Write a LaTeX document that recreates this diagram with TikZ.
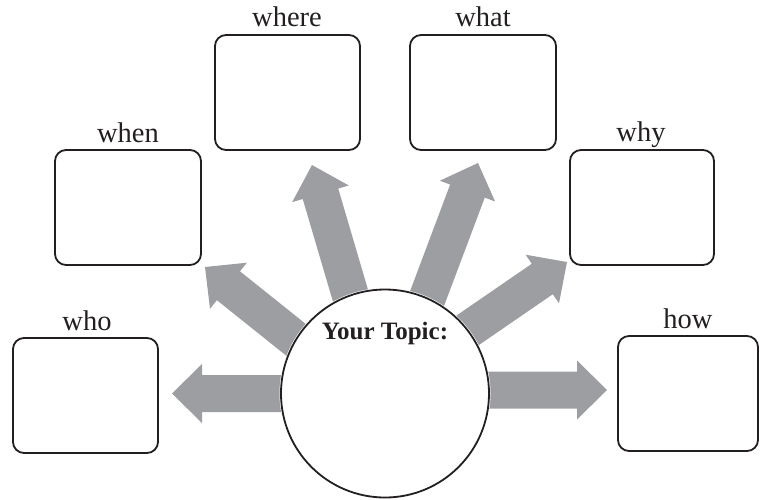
\documentclass[tikz,border=0pt]{standalone}
\usepackage{fontspec}
\setmainfont{Liberation Serif}
\usetikzlibrary{calc}
\definecolor{arrowgray}{RGB}{157,158,162}
\definecolor{ink}{RGB}{35,31,32}
\tikzset{
  qbox/.style={draw=ink, line width=1.8pt, rounded corners=11pt, fill=white,
    inner sep=0pt, minimum height=115pt},
  qlabel/.style={anchor=base, inner sep=0pt, text=ink, font=\fontsize{28.5}{30}\selectfont},
}
\newcommand\blockarrow[2]{%
  \fill[arrowgray]
    ($(#1)!18.5pt!90:(#2)$) --
    ($($(#2)!30pt!(#1)$)!18.5pt!-90:(#1)$) --
    ($($(#2)!30pt!(#1)$)!29.5pt!-90:(#1)$) --
    (#2) --
    ($($(#2)!30pt!(#1)$)!29.5pt!90:(#1)$) --
    ($($(#2)!30pt!(#1)$)!18.5pt!90:(#1)$) --
    ($(#1)!18.5pt!-90:(#2)$) -- cycle;}
\begin{document}
\begin{tikzpicture}[x=1pt,y=-1pt]
\useasboundingbox (0,0) rectangle (760,499);
% boxes
\node[qbox, minimum width=145pt] (who)   at (85.5,395.5) {};
\node[qbox, minimum width=146pt] (when)  at (128,207.5) {};
\node[qbox, minimum width=145pt] (where) at (287.5,92.5) {};
\node[qbox, minimum width=146pt] (what)  at (483,92.5) {};
\node[qbox, minimum width=144pt] (why)   at (642,207.5) {};
\node[qbox, minimum width=140pt] (how)   at (688,393.5) {};
% labels
\node[qlabel] (lwho)   at (87,330) {who};
\node[qlabel] (lwhen)  at (128,142) {when};
\node[qlabel] (lwhere) at (287,26) {where};
\node[qlabel] (lwhat)  at (483,26) {what};
\node[qlabel] (lwhy)   at (641,141) {why};
\node[qlabel] (lhow)   at (688,328) {how};
% arrow end points
\coordinate (twho)   at (172,393.5);  \coordinate (swho)   at (300,393.5);
\coordinate (twhen)  at (205,267);    \coordinate (swhen)  at ($(205,267)!1.25!(290,335)$);
\coordinate (twhere) at (312,165);    \coordinate (swhere) at ($(312,165)!1.2!(350,294)$);
\coordinate (twhat)  at (478,163);    \coordinate (swhat)  at ($(478,163)!1.2!(428,296)$);
\coordinate (twhy)   at (567,262);    \coordinate (swhy)   at ($(567,262)!1.25!(471,328)$);
\coordinate (thow)   at (607,390);    \coordinate (show)   at (470,390);
\blockarrow{swho}{twho}
\blockarrow{swhen}{twhen}
\blockarrow{swhere}{twhere}
\blockarrow{swhat}{twhat}
\blockarrow{swhy}{twhy}
\blockarrow{show}{thow}
% topic circle
\node[circle, draw=white, line width=7pt, fill=white, minimum size=204pt, inner sep=0pt] (topicbg) at (385,393.5) {};
\node[circle, draw=ink, line width=1.8pt, minimum size=208pt, inner sep=0pt] (topic) at (385,393.5) {};
\node[anchor=base, inner sep=0pt, text=ink, font=\fontsize{25}{27}\selectfont\bfseries] (topictext) at (385,339) {Your Topic:};
\end{tikzpicture}
\end{document}
